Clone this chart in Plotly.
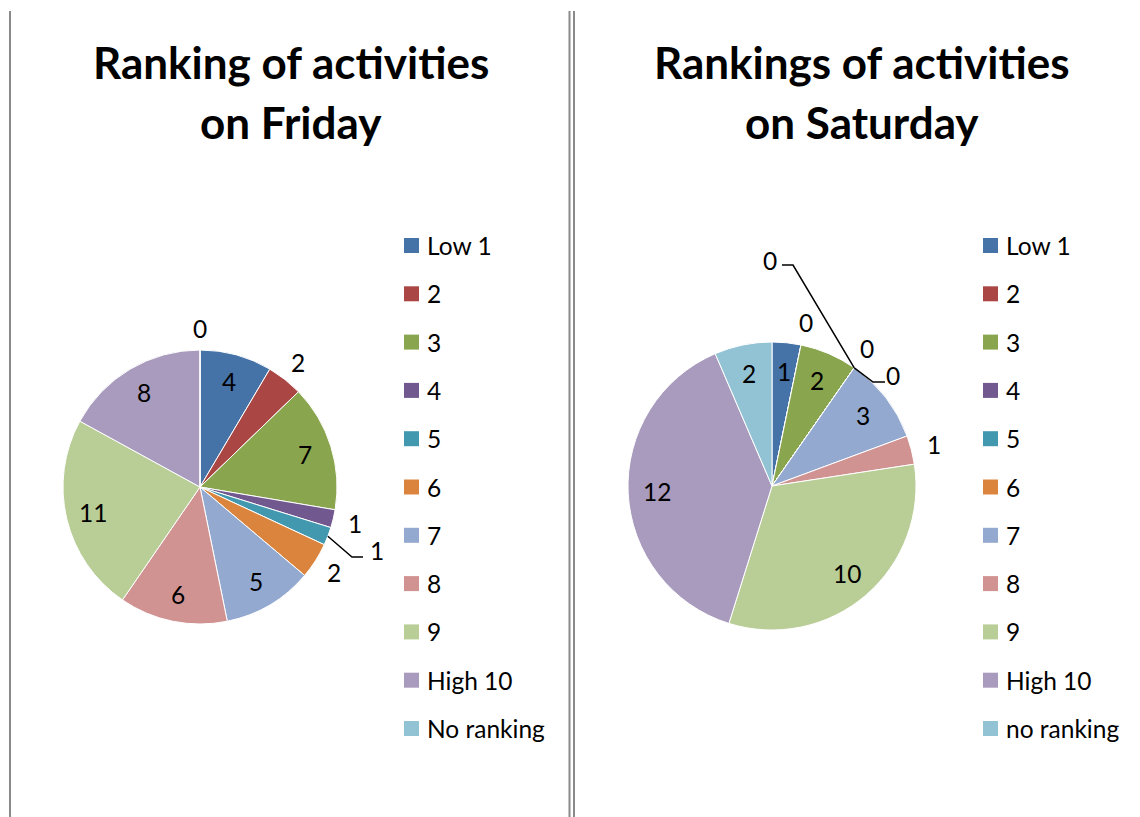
import math
import plotly.graph_objects as go

# ---------------- data ----------------
CATEGORIES_FRI = ["Low 1", "2", "3", "4", "5", "6", "7", "8", "9", "High 10", "No ranking"]
CATEGORIES_SAT = ["Low 1", "2", "3", "4", "5", "6", "7", "8", "9", "High 10", "no ranking"]
FRIDAY_VALUES = [4, 2, 7, 1, 1, 2, 5, 6, 11, 8, 0]
SATURDAY_VALUES = [1, 0, 2, 0, 0, 0, 3, 1, 10, 12, 2]
TITLE_FRI = ["Ranking of activities", "on Friday"]
TITLE_SAT = ["Rankings of activities", "on Saturday"]

# ---------------- styles / layout ----------------
COLORS = ["#4572A7", "#AA4643", "#89A54E", "#71588F", "#4198AF", "#DB843D",
          "#93A9CF", "#D19392", "#B9CD96", "#A99BBD", "#92C3D5"]
W, H = 1140, 817
FONT = "Lato"
LABEL_SIZE = 24.5
TITLE_SIZE = 44

# label placement mode per slice: 'in', 'out', or a key of leader offsets
FRI_MODES = ["in", "out", "in", "out", "L1", "out", "in", "in", "in", "in", "out"]
SAT_MODES = ["in", "out", "in", "L2", "out", "L3", "in", "out", "in", "in", "in"]
# leader lines: elbow, end of horizontal run, label centre (pixel offsets from pie centre)
LEADERS = {
    "L1": dict(elbow=(152, 70), end=(163, 70), label=(177, 63)),
    "L2": dict(elbow=(21, -221), end=(10, -221), label=(-2, -226)),
    "L3": dict(elbow=(101, -104), end=(113, -104), label=(121, -111)),
}

PANELS = [
    dict(name="Friday", cats=CATEGORIES_FRI, vals=FRIDAY_VALUES, title=TITLE_FRI,
         cx=200, cy=487, r=137, modes=FRI_MODES, title_x=291,
         leg_sq=404, leg_txt=425),
    dict(name="Saturday", cats=CATEGORIES_SAT, vals=SATURDAY_VALUES, title=TITLE_SAT,
         cx=772, cy=486, r=144, modes=SAT_MODES, title_x=862,
         leg_sq=983, leg_txt=1004),
]
LEG_Y0, LEG_STEP, SQ = 245.5, 48.3, 15
TITLE_Y = [62, 122]
IN_R, OUT_R = 0.80, 1.16


def px(x):
    return x / W


def py(y):
    return 1 - y / H


fig = go.Figure()
annotations = []
shapes = []

for p in PANELS:
    cx, cy, r = p["cx"], p["cy"], p["r"]
    hx = (r + 12) / W
    hy = r / H
    fig.add_trace(go.Pie(
        labels=p["cats"], values=p["vals"], name=p["name"],
        sort=False, direction="clockwise", rotation=0,
        marker=dict(colors=COLORS, line=dict(color="white", width=1)),
        textinfo="none", hoverinfo="label+value", showlegend=False,
        domain=dict(x=[px(cx) - hx, px(cx) + hx], y=[py(cy) - hy, py(cy) + hy]),
    ))

    total = sum(p["vals"])
    cum = 0
    for i, v in enumerate(p["vals"]):
        a0 = cum / total * 360
        cum += v
        a1 = cum / total * 360
        mid = math.radians((a0 + a1) / 2)
        mode = p["modes"][i]
        if mode in ("in", "out"):
            rr = r * (IN_R if mode == "in" else OUT_R)
            lx, ly = cx + rr * math.sin(mid), cy - rr * math.cos(mid)
        else:
            ld = LEADERS[mode]
            sx, sy = cx + r * math.sin(mid), cy - r * math.cos(mid)
            ex, ey = cx + ld["elbow"][0], cy + ld["elbow"][1]
            tx, ty = cx + ld["end"][0], cy + ld["end"][1]
            path = f"M {px(sx)} {py(sy)} L {px(ex)} {py(ey)} L {px(tx)} {py(ty)}"
            shapes.append(dict(type="path", xref="paper", yref="paper", path=path,
                               line=dict(color="black", width=1.5)))
            lx, ly = cx + ld["label"][0], cy + ld["label"][1]
        annotations.append(dict(x=px(lx), y=py(ly), xref="paper", yref="paper",
                                text=str(v), showarrow=False, xanchor="center",
                                yanchor="middle",
                                font=dict(family=FONT, size=LABEL_SIZE, color="black")))

    # legend
    for i, cat in enumerate(p["cats"]):
        yc = LEG_Y0 + i * LEG_STEP
        shapes.append(dict(type="rect", xref="paper", yref="paper",
                           x0=px(p["leg_sq"]), x1=px(p["leg_sq"] + SQ),
                           y0=py(yc - SQ / 2), y1=py(yc + SQ / 2),
                           fillcolor=COLORS[i], line=dict(width=0)))
        annotations.append(dict(x=px(p["leg_txt"]), y=py(yc), xref="paper", yref="paper",
                                text=cat, showarrow=False, xanchor="left", yanchor="middle",
                                font=dict(family=FONT, size=LABEL_SIZE, color="black")))

    # title
    for line, ty in zip(p["title"], TITLE_Y):
        annotations.append(dict(x=px(p["title_x"]), y=py(ty), xref="paper", yref="paper",
                                text=f"<b>{line}</b>", showarrow=False,
                                xanchor="center", yanchor="middle",
                                font=dict(family=FONT, size=TITLE_SIZE, color="black")))

# panel border lines
for x in (10, 569.5, 574):
    shapes.append(dict(type="line", xref="paper", yref="paper",
                       x0=px(x), x1=px(x), y0=py(11), y1=0,
                       line=dict(color="#8a8a8a", width=2)))

fig.update_layout(
    width=W, height=H,
    margin=dict(l=0, r=0, t=0, b=0),
    paper_bgcolor="white", plot_bgcolor="white",
    annotations=annotations, shapes=shapes,
    font=dict(family=FONT),
)

fig.write_html("out.html", config={"displayModeBar": False},
               post_script="document.body.style.margin='0px';")
